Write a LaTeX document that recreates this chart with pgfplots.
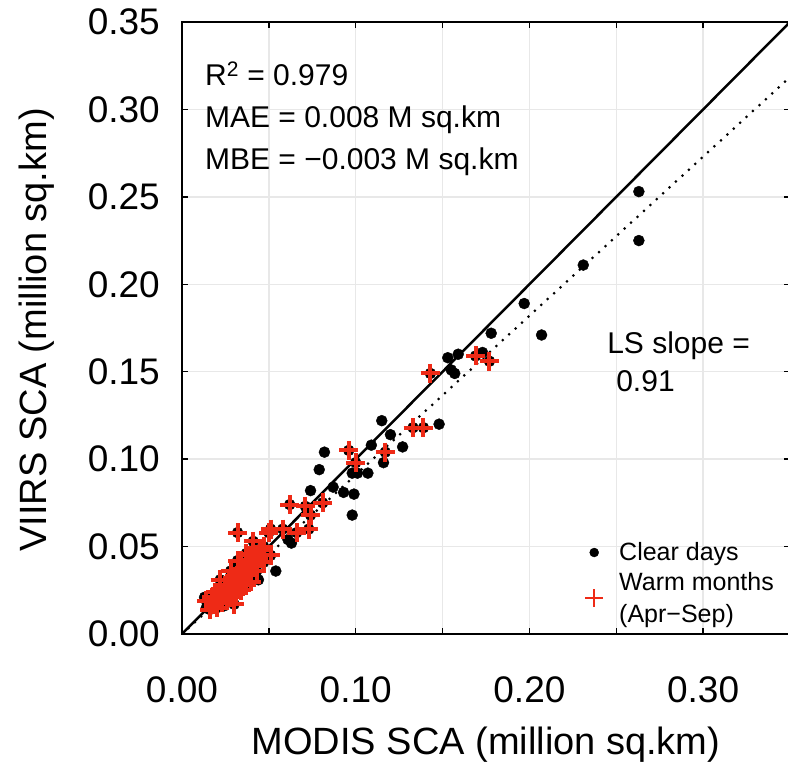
\documentclass[border=0pt]{standalone}
\usepackage{pgfplots}
\usepackage{pgfplotstable}
\pgfplotsset{compat=1.18}
\usepackage{fontspec}
\setmainfont{Liberation Sans}
\definecolor{warmred}{RGB}{238,42,22}
\definecolor{gridgray}{RGB}{232,232,232}
\pgfkeys{/pgf/number format/.cd, fixed, fixed zerofill, precision=2, assume math mode=true}
\pgfplotstableread{
x y
0.263 0.253
0.263 0.225
0.231 0.211
0.197 0.189
0.207 0.171
0.178 0.172
0.173 0.161
0.159 0.160
0.153 0.158
0.155 0.151
0.157 0.149
0.148 0.120
0.127 0.107
0.115 0.122
0.120 0.114
0.109 0.108
0.116 0.098
0.082 0.104
0.079 0.094
0.098 0.092
0.101 0.092
0.107 0.092
0.087 0.084
0.074 0.082
0.093 0.081
0.099 0.080
0.098 0.068
0.063 0.052
0.061 0.054
0.031 0.038
0.054 0.036
0.044 0.031
0.029 0.018
0.013 0.021
0.014 0.015
0.024 0.016
0.019 0.020
0.035 0.030
}\clear
\pgfplotstableread{
x y
0.169 0.159
0.177 0.156
0.143 0.149
0.133 0.118
0.139 0.118
0.117 0.104
0.096 0.105
0.100 0.098
0.062 0.074
0.071 0.073
0.081 0.075
0.074 0.068
0.051 0.060
0.058 0.060
0.066 0.058
0.073 0.060
0.032 0.058
0.050 0.058
0.041 0.053
0.047 0.050
0.051 0.045
0.039 0.045
0.045 0.048
0.032 0.042
0.037 0.046
0.047 0.041
0.014 0.019
0.016 0.014
0.017 0.021
0.018 0.017
0.019 0.024
0.020 0.015
0.021 0.020
0.022 0.026
0.023 0.018
0.024 0.022
0.025 0.028
0.026 0.019
0.026 0.024
0.027 0.031
0.028 0.021
0.029 0.026
0.030 0.033
0.031 0.023
0.032 0.028
0.033 0.035
0.034 0.025
0.035 0.031
0.036 0.038
0.037 0.028
0.038 0.034
0.040 0.030
0.041 0.039
0.043 0.036
0.022 0.031
0.028 0.036
0.034 0.042
0.038 0.041
0.044 0.043
0.030 0.017
}\warm
\begin{document}
\begin{tikzpicture}
\begin{axis}[
  scale only axis,
  width=608pt, height=612pt,
  xmin=0, xmax=0.35, ymin=0, ymax=0.35,
  scaled ticks=false,
  xtick={0,0.1,0.2,0.3},
  minor xtick={0.05,0.15,0.25,0.35},
  ytick={0,0.05,0.10,0.15,0.20,0.25,0.30,0.35},
  grid=both,
  major grid style={gridgray, line width=1.5pt},
  minor grid style={gridgray, line width=1.5pt},
  tick align=inside,
  major tick length=6pt, minor tick length=6pt,
  every tick/.style={black, line width=1.5pt},
  axis line style={line width=2pt},
  tick label style={font=\fontsize{37}{37}\selectfont, inner sep=0pt},
  xticklabel style={anchor=center, yshift=-56pt},
  yticklabel style={anchor=east, xshift=-22pt},
  xlabel={MODIS SCA (million sq.km)},
  ylabel={VIIRS SCA (million sq.km)},
  label style={font=\fontsize{38}{38}\selectfont},
  xlabel style={at={(axis description cs:0.5,-0.181)}, anchor=center},
  ylabel style={at={(axis description cs:-0.2385,0.497)}, anchor=center},
  legend style={draw=none, fill=none, at={(axis cs:0.232,0.0045)}, anchor=south west,
    font=\fontsize{25}{32}\selectfont, nodes={align=left}, inner sep=0pt,
    row sep=6pt, /tikz/every odd column/.append style={column sep=14pt}},
  legend cell align=left,
]
\addlegendimage{only marks, mark=*, black, mark size=4.5pt}
\addlegendentry{Clear days}
\addlegendimage{only marks, mark=+, warmred, mark size=9pt, line width=2pt}
\addlegendentry{Warm months\\(Apr−Sep)}

\addplot[only marks, mark=*, black, mark size=5.5pt, forget plot] table[x=x,y=y] {\clear};
\addplot[only marks, mark=*, black, mark size=5.5pt, forget plot] table[x=x,y=y] {\warm};
\addplot[only marks, mark=+, warmred, mark size=9.5pt, line width=4pt, forget plot] table[x=x,y=y] {\warm};

\addplot[black, line width=2.5pt, forget plot] coordinates {(0,0) (0.35,0.35)};
\addplot[black, line width=3pt, line cap=round, dash pattern=on 0pt off 8.7pt, forget plot] coordinates {(0,0) (0.35,0.3185)};

\node[anchor=base west, inner sep=0pt, font=\fontsize{30}{30}\selectfont] at (axis cs:0.0132,0.3137) {R\textsuperscript{2} = 0.979};
\node[anchor=base west, inner sep=0pt, font=\fontsize{30}{30}\selectfont] at (axis cs:0.0132,0.2896) {MAE = 0.008 M sq.km};
\node[anchor=base west, inner sep=0pt, font=\fontsize{30}{30}\selectfont] at (axis cs:0.0132,0.2656) {MBE = −0.003 M sq.km};
\node[anchor=base west, inner sep=0pt, font=\fontsize{30}{30}\selectfont] at (axis cs:0.2447,0.1603) {LS slope =};
\node[anchor=base west, inner sep=0pt, font=\fontsize{30}{30}\selectfont] at (axis cs:0.2499,0.1385) {0.91};
\end{axis}
\pgfresetboundingbox
\useasboundingbox (-182pt,-135pt) rectangle (606pt,634pt);
\end{tikzpicture}
\end{document}
